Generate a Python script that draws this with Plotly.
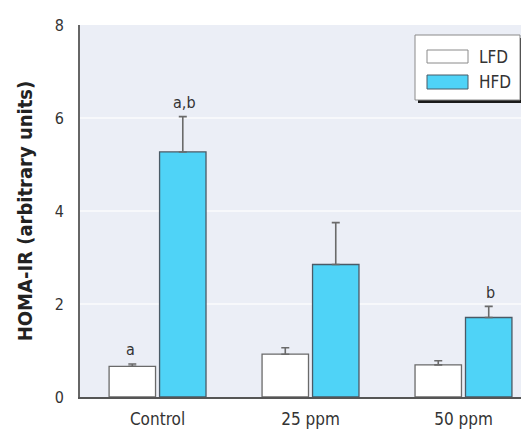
import plotly.graph_objects as go

# HOMA-IR by diet and dose
groups = ["Control", "25 ppm", "50 ppm"]
lfd_mean = [0.66, 0.92, 0.69]
lfd_sem = [0.05, 0.14, 0.09]
hfd_mean = [5.27, 2.85, 1.71]
hfd_sem = [0.76, 0.90, 0.24]
hfd_labels = ["a,b", "", "b"]
lfd_labels = ["a", "", ""]
y_ticks = [0, 2, 4, 6, 8]

W, H = 521, 430
L, R, T, B = 80, 0, 25, 33
PW, PH = W - L - R, H - T - B

FONT = "DejaVu Sans Condensed, Roboto, Arial, sans-serif"
CYAN = "#4fd3f7"
EDGE = "#4a5a66"

xpos = list(range(len(groups)))

fig = go.Figure()
fig.add_bar(
    x=xpos, y=lfd_mean, name="LFD",
    marker=dict(color="#ffffff", line=dict(color="#6a6a6a", width=1.3)),
    error_y=dict(type="data", array=lfd_sem, arrayminus=[0] * 3, symmetric=False,
                 color="#6a6a6a", thickness=1.6, width=4),
)
fig.add_bar(
    x=xpos, y=hfd_mean, name="HFD",
    marker=dict(color=CYAN, line=dict(color=EDGE, width=1.3)),
    error_y=dict(type="data", array=hfd_sem, arrayminus=[0] * 3, symmetric=False,
                 color="#6a6a6a", thickness=1.6, width=4),
)

# significance letters above bars
bar_off = 0.178
for i, g in enumerate(groups):
    if lfd_labels[i]:
        fig.add_annotation(x=i - bar_off, y=lfd_mean[i] + lfd_sem[i], text=lfd_labels[i],
                           showarrow=False, yshift=14, font=dict(family=FONT, size=16, color="#333"))
    if hfd_labels[i]:
        fig.add_annotation(x=i + bar_off, y=hfd_mean[i] + hfd_sem[i], text=hfd_labels[i],
                           showarrow=False, yshift=14, font=dict(family=FONT, size=16, color="#333"))


def px(x):
    return (x - L) / PW


def py(y):
    return (H - B - y) / PH


# legend box with drop shadow
shapes = [
    dict(type="rect", xref="paper", yref="paper", x0=px(418), x1=px(523), y0=py(103), y1=py(38),
         fillcolor="#1a1a1a", line=dict(width=0)),
    dict(type="rect", xref="paper", yref="paper", x0=px(415), x1=px(520), y0=py(100), y1=py(35),
         fillcolor="#ffffff", line=dict(color="#8a8a8a", width=1)),
    dict(type="rect", xref="paper", yref="paper", x0=px(427), x1=px(468), y0=py(63), y1=py(50),
         fillcolor="#ffffff", line=dict(color="#8a8a8a", width=1)),
    dict(type="rect", xref="paper", yref="paper", x0=px(427), x1=px(468), y0=py(89), y1=py(75),
         fillcolor=CYAN, line=dict(color=EDGE, width=1)),
]
for name, yc in (("LFD", 57), ("HFD", 82)):
    fig.add_annotation(xref="paper", yref="paper", x=px(477), y=py(yc), text=name,
                       xanchor="left", yanchor="middle", showarrow=False,
                       font=dict(family=FONT, size=17, color="#333"))

fig.update_layout(
    width=W, height=H,
    margin=dict(l=L, r=R, t=T, b=B),
    paper_bgcolor="#ffffff",
    plot_bgcolor="#ebeef6",
    barmode="group", bargap=0.34, bargroupgap=0.08,
    showlegend=False,
    shapes=shapes,
    font=dict(family=FONT, color="#333"),
    xaxis=dict(
        tickmode="array", tickvals=xpos, ticktext=groups,
        range=[-0.507, 2.376], showgrid=False, zeroline=False,
        showline=True, linecolor="#555", linewidth=2, ticks="",
        ticklabelstandoff=6,
        tickfont=dict(family=FONT, size=17, color="#333"),
    ),
    yaxis=dict(
        range=[0, 8], tickvals=y_ticks, showgrid=True, gridcolor="#f7f8fb", gridwidth=1.5,
        zeroline=False, showline=True, linecolor="#666", linewidth=2, ticks="",
        ticklabelstandoff=11,
        tickfont=dict(family=FONT, size=16, color="#333"),
        title=dict(text="<b>HOMA-IR (arbitrary units)</b>", standoff=17,
                   font=dict(family=FONT, size=20, color="#222")),
    ),
)

fig.write_html("out.html")
